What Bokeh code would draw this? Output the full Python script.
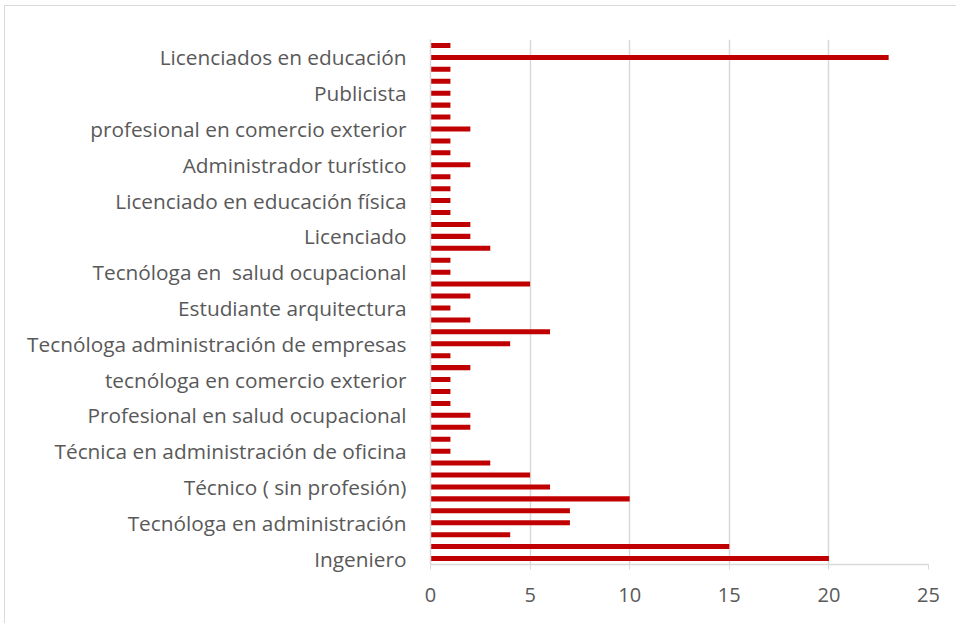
from bokeh.plotting import figure
from bokeh.models import FixedTicker, ColumnDataSource
from bokeh.embed import file_html
from bokeh.resources import INLINE

# Categories from bottom (first) to top (last); only every third is labelled in the reference
labels_shown = [
    "Ingeniero",
    "Tecnóloga en administración",
    "Técnico ( sin profesión)",
    "Técnica en administración de oficina",
    "Profesional en salud ocupacional",
    "tecnóloga en comercio exterior",
    "Tecnóloga administración de empresas",
    "Estudiante arquitectura",
    "Tecnóloga en \u00a0salud ocupacional",
    "Licenciado",
    "Licenciado en educación física",
    "Administrador turístico",
    "profesional en comercio exterior",
    "Publicista",
    "Licenciados en educación",
]

# values from bottom to top (44 categories)
values = [
    20, 15, 4, 7, 7, 10, 6, 5, 3, 1, 1,
    2, 2, 1, 1, 1, 2, 1, 4, 6, 2, 1,
    2, 5, 1, 1, 3, 2, 2, 1, 1, 1, 1,
    2, 1, 1, 2, 1, 1, 1, 1, 1, 23, 1,
]

x_ticks = [0, 5, 10, 15, 20, 25]

positions = list(range(len(values)))
label_positions = positions[0::3]
overrides = {pos: lab for pos, lab in zip(label_positions, labels_shown)}

src = ColumnDataSource(dict(y=positions, v=values))

p = figure(width=951, height=617, frame_width=498, frame_height=525,
           output_backend="svg", toolbar_location=None,
           x_range=(0, 25), y_range=(-0.5, len(values) - 0.5),
           min_border_left=425, min_border_right=28, min_border_top=33, min_border_bottom=59)
p.hbar(y="y", right="v", left=0, height=0.42, source=src, color="#C00000", line_color=None)

p.outline_line_color = None
p.background_fill_color = "white"
p.border_fill_color = "white"

p.xgrid.ticker = FixedTicker(ticks=x_ticks)
p.xgrid.grid_line_color = "#D9D9D9"
p.xgrid.grid_line_width = 1.5
p.ygrid.grid_line_color = None

p.xaxis.ticker = FixedTicker(ticks=x_ticks)
p.xaxis.axis_line_color = "#D9D9D9"
p.xaxis.axis_line_width = 1.5
p.xaxis.major_tick_line_color = "#D9D9D9"
p.xaxis.major_tick_out = 5
p.xaxis.major_tick_in = 0
p.xaxis.minor_tick_line_color = None
p.xaxis.major_label_text_font = "Open Sans"
p.xaxis.major_label_text_font_size = "20px"
p.xaxis.major_label_text_color = "#595959"
p.xaxis.major_label_standoff = 18

p.yaxis.ticker = FixedTicker(ticks=label_positions)
p.yaxis.major_label_overrides = overrides
p.yaxis.axis_line_color = "#D9D9D9"
p.yaxis.axis_line_width = 1.5
p.yaxis.major_tick_line_color = None
p.yaxis.minor_tick_line_color = None
p.yaxis.major_tick_out = 0
p.yaxis.major_label_text_font = "Open Sans"
p.yaxis.major_label_text_font_size = "20.8px"
p.yaxis.major_label_text_color = "#595959"
p.yaxis.major_label_standoff = 24

p.styles = {"border-left": "1px solid #D9D9D9", "border-top": "1px solid #D9D9D9",
            "margin-left": "4px", "margin-top": "5px"}

open("out.html", "w").write(file_html(p, INLINE))
